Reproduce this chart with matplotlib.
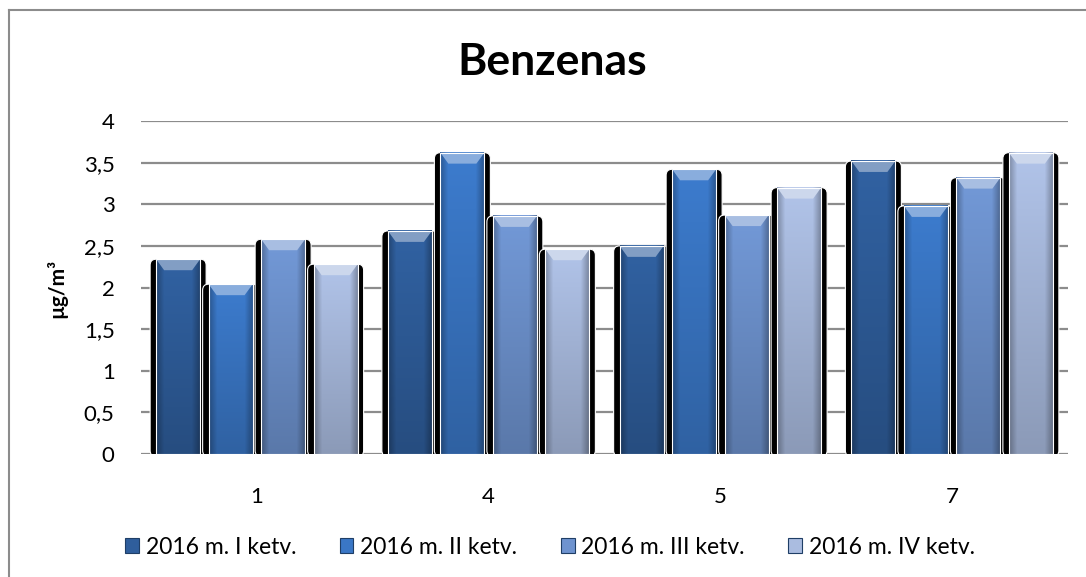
import numpy as np
import matplotlib
matplotlib.use("Agg")
import matplotlib.pyplot as plt
from matplotlib.patches import FancyBboxPatch, Polygon, Rectangle, Patch
from matplotlib.lines import Line2D
import matplotlib.colors as mcolors

plt.rcParams['font.family'] = ['Lato', 'DejaVu Sans']

title = "Benzenas"
ylabel = "µg/m³"
categories = ["1", "4", "5", "7"]
series_names = ["2016 m. I ketv.", "2016 m. II ketv.", "2016 m. III ketv.", "2016 m. IV ketv."]
values_q1 = [2.34, 2.68, 2.50, 3.52]
values_q2 = [2.04, 3.62, 3.42, 2.98]
values_q3 = [2.58, 2.86, 2.87, 3.32]
values_q4 = [2.28, 2.46, 3.20, 3.62]
series_values = [values_q1, values_q2, values_q3, values_q4]
colors = ["#2F5E9C", "#3A77C6", "#6E93CF", "#AABCE0"]
yticks = [0, 0.5, 1, 1.5, 2, 2.5, 3, 3.5, 4]
yticklabels = ["0", "0,5", "1", "1,5", "2", "2,5", "3", "3,5", "4"]

W, H = 1086, 577
fig = plt.figure(figsize=(W / 100, H / 100), dpi=100)
fig.patch.set_facecolor("white")

ax_l, ax_r, ax_b, ax_t = 141, 1068, 454, 121
ax = fig.add_axes([ax_l / W, 1 - ax_b / H, (ax_r - ax_l) / W, (ax_b - ax_t) / H])
ax.set_xlim(0, len(categories))
ax.set_ylim(0, 4)
for s in ax.spines.values():
    s.set_visible(False)

px_x = (ax_r - ax_l) / len(categories)   # px per x unit
px_y = (ax_b - ax_t) / 4.0               # px per y unit

# gridlines
for yv in yticks:
    ax.axhline(yv, color="#8C8C8C", lw=1.6, zorder=1)

pitch = 52.5 / px_x
bw = 44 / px_x
pad = 6 / px_x
bev_x = 8 / px_x
bev_y = 11 / px_y
rad = 6 / px_x
aspect = px_x / px_y

n = len(series_names)
for i, (vals, col) in enumerate(zip(series_values, colors)):
    base = np.array(mcolors.to_rgb(col))
    for j, v in enumerate(vals):
        xc = j + 0.5 + (i - (n - 1) / 2) * pitch
        x0, x1 = xc - bw / 2, xc + bw / 2
        z = 2 + j * 10 + i * 2
        # black shadow
        sh = FancyBboxPatch((x0 - pad, -0.03), bw + 2 * pad, v + 0.03,
                            boxstyle=f"round,pad=0,rounding_size={rad}",
                            mutation_aspect=aspect, fc="black", ec="white",
                            lw=0.8, zorder=z)
        ax.add_patch(sh)
        # gradient body
        nx, ny = 40, 60
        xs = np.linspace(0, 1, nx)
        ys = np.linspace(0, 1, ny)
        fx = 1 - 0.28 * np.clip(1 - np.minimum(xs, 1 - xs) / 0.18, 0, 1)
        fy = 0.82 + 0.22 * ys
        img = base[None, None, :] * fx[None, :, None] * fy[:, None, None]
        img = np.clip(img, 0, 1)
        ax.imshow(img, extent=[x0, x1, 0, v], origin="lower", aspect="auto",
                  interpolation="bilinear", zorder=z + 0.5)
        # bevel top
        light = base + (1 - base) * 0.40
        top = Polygon([(x0, v), (x1, v), (x1 - bev_x, v - bev_y), (x0 + bev_x, v - bev_y)],
                      closed=True, fc=light, ec="none", zorder=z + 0.6)
        ax.add_patch(top)
        ax.add_patch(Rectangle((x0, 0), bw, v, fc="none", ec="white", lw=0.8, zorder=z + 0.7))

ax.set_xticks([j + 0.5 for j in range(len(categories))])
ax.set_xticklabels(categories, fontsize=16)
ax.tick_params(axis="x", length=0, pad=24)
ax.set_yticks(yticks)
ax.set_yticklabels(yticklabels, fontsize=16)
ax.tick_params(axis="y", length=0, pad=19)
fig.text(57 / W, 1 - 288 / H, ylabel, fontsize=15, fontweight="bold", rotation=90,
         ha="center", va="center")
fig.text(552 / W, 1 - 62 / H, title, fontsize=32, fontweight="bold", ha="center", va="center")

handles = [Patch(fc=c, ec="#1F3E66", lw=0.8) for c in colors]
leg = fig.legend(handles, series_names, loc="center", bbox_to_anchor=(550 / W, 1 - 547 / H),
                 ncol=4, frameon=False, fontsize=16.5, handlelength=0.6, handleheight=0.6,
                 handletextpad=0.3, columnspacing=1.9)

# outer border
fig.add_artist(Line2D([8.5 / W, 8.5 / W], [0, 1 - 10 / H], color="#8C8C8C", lw=1.5))
fig.add_artist(Line2D([8.5 / W, 1], [1 - 10 / H, 1 - 10 / H], color="#8C8C8C", lw=1.5))

fig.savefig("out.png", dpi=100, facecolor="white")
